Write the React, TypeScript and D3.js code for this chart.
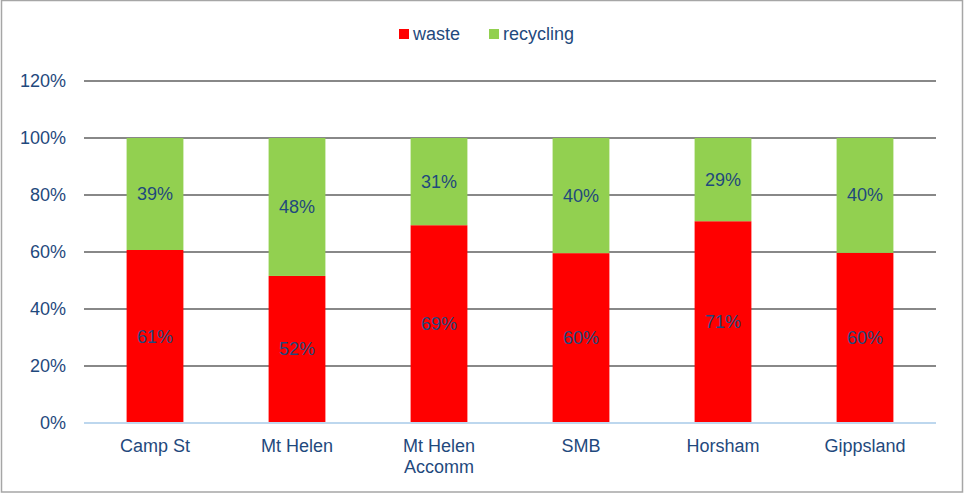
import React, { useEffect, useRef } from 'react';
import * as d3 from 'd3';

const categories = ['Camp St', 'Mt Helen', 'Mt Helen\nAccomm', 'SMB', 'Horsham', 'Gippsland'];
const waste = [0.607, 0.516, 0.694, 0.596, 0.708, 0.597];
const recycling = [0.393, 0.484, 0.306, 0.404, 0.292, 0.403];
const yTicks = [0, 0.2, 0.4, 0.6, 0.8, 1.0, 1.2];
const seriesNames = ['waste', 'recycling'];

const COLORS: Record<string, string> = { waste: '#FF0000', recycling: '#92D050' };
const TEXT = '#1F497D';
const FONT = '"Liberation Sans", Arial, sans-serif';
const FS = '18px';

const App: React.FC = () => {
  const svgRef = useRef<SVGSVGElement>(null);

  useEffect(() => {
    if (!svgRef.current) return;
    const svg = d3.select(svgRef.current);
    svg.selectAll('*').remove();

    const W = 964;
    const H = 494;
    const margin = { top: 81, right: 28, bottom: 71, left: 84 };
    const width = W - margin.left - margin.right;
    const height = H - margin.top - margin.bottom;

    // outer frame
    svg.append('rect')
      .attr('x', 1.5).attr('y', 0.5)
      .attr('width', W - 3).attr('height', H - 2.5)
      .attr('fill', '#fff')
      .attr('stroke', '#A6A6A6')
      .attr('stroke-width', 1.5);

    const g = svg.append('g').attr('transform', `translate(${margin.left},${margin.top})`);

    const x = d3.scaleBand<string>().domain(categories).range([0, width]).paddingInner(0.6).paddingOuter(0.3);
    const y = d3.scaleLinear().domain([0, 1.2]).range([height, 0]);

    // grid lines
    g.append('g')
      .selectAll('line')
      .data(yTicks.filter(t => t > 0))
      .enter()
      .append('line')
      .attr('x1', 0).attr('x2', width)
      .attr('y1', d => y(d)).attr('y2', d => y(d))
      .attr('stroke', '#888888')
      .attr('stroke-width', 2);

    // y tick labels
    g.append('g')
      .selectAll('text')
      .data(yTicks)
      .enter()
      .append('text')
      .attr('x', -18)
      .attr('y', d => y(d) + 6)
      .attr('text-anchor', 'end')
      .attr('fill', TEXT)
      .style('font-family', FONT)
      .style('font-size', FS)
      .text(d => `${Math.round(d * 100)}%`);

    // stacked data
    const rows = categories.map((c, i) => ({ cat: c, waste: waste[i], recycling: recycling[i] }));
    const stacked = d3.stack<any>().keys(seriesNames)(rows);

    stacked.forEach(layer => {
      const lg = g.append('g');
      lg.selectAll('rect')
        .data(layer)
        .enter()
        .append('rect')
        .attr('x', d => x(d.data.cat) as number)
        .attr('width', x.bandwidth())
        .attr('y', d => y(d[1]))
        .attr('height', d => y(d[0]) - y(d[1]))
        .attr('fill', COLORS[layer.key]);

      lg.selectAll('text')
        .data(layer)
        .enter()
        .append('text')
        .attr('x', d => (x(d.data.cat) as number) + x.bandwidth() / 2)
        .attr('y', d => (y(d[0]) + y(d[1])) / 2 + 6)
        .attr('text-anchor', 'middle')
        .attr('fill', TEXT)
        .style('font-family', FONT)
        .style('font-size', FS)
        .text(d => `${Math.round(d.data[layer.key] * 100)}%`);
    });

    // x axis line
    g.append('line')
      .attr('x1', 0).attr('x2', width)
      .attr('y1', height).attr('y2', height)
      .attr('stroke', '#BDD7EE')
      .attr('stroke-width', 2);

    // category labels
    categories.forEach(c => {
      const t = g.append('text')
        .attr('text-anchor', 'middle')
        .attr('fill', TEXT)
        .style('font-family', FONT)
        .style('font-size', FS);
      c.split('\n').forEach((line, i) => {
        t.append('tspan')
          .attr('x', (x(c) as number) + x.bandwidth() / 2)
          .attr('y', height + 29 + i * 21)
          .text(line);
      });
    });

    // legend
    const legend = svg.append('g').attr('transform', 'translate(399,29)');
    const legendX = [0, 90];
    seriesNames.forEach((s, i) => {
      const item = legend.append('g').attr('transform', `translate(${legendX[i]},0)`);
      item.append('rect').attr('width', 10).attr('height', 10).attr('fill', COLORS[s]);
      item.append('text')
        .attr('x', 14)
        .attr('y', 11)
        .attr('fill', TEXT)
        .style('font-family', FONT)
        .style('font-size', FS)
        .text(s);
    });
  }, []);

  return (
    <svg
      ref={svgRef}
      width={964}
      height={494}
      style={{ position: 'absolute', left: 0, top: 0, display: 'block' }}
    />
  );
};

export default App;
